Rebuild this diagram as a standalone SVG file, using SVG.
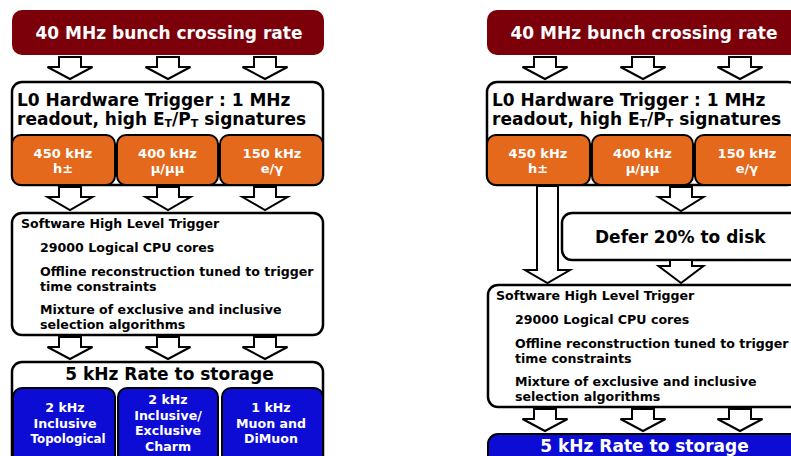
<svg xmlns="http://www.w3.org/2000/svg" width="791" height="456" viewBox="0 0 791 456">
  <defs>
    <style>
      text { font-family: "DejaVu Sans", Verdana, sans-serif; font-weight: bold; }
      .box { fill: #ffffff; stroke: #000000; stroke-width: 2.5; }
      .red { fill: #7b0009; }
      .orange { fill: #e5691c; stroke: #000000; stroke-width: 2; }
      .blue { fill: #0c0cd4; stroke: #000000; stroke-width: 2; }
      .arrow { fill: #ffffff; stroke: #000000; stroke-width: 2; stroke-linejoin: miter; }
      .wt { fill: #ffffff; }
      .bk { fill: #000000; }
      .big { font-size: 17px; }
      .mid { font-size: 12.6px; }
      .sub { font-size: 13px; }
      .sm { font-size: 12.6px; }
      .c { text-anchor: middle; }
      .idx { font-size: 11px; }
    </style>
  </defs>
  <rect width="791" height="456" fill="#ffffff"/>

  <!-- ===== Left chain ===== -->
  <g id="left-rate">
    <rect class="red" x="12" y="10" width="312" height="45" rx="10"/>
    <text class="wt big c" x="169" y="39">40 MHz bunch crossing rate</text>
  </g>

  <g id="left-l0">
    <rect class="box" x="12" y="82" width="311" height="103" rx="10"/>
    <text class="bk big" x="17" y="106">L0 Hardware Trigger : 1 MHz</text>
    <text class="bk big" x="17" y="125">readout, high E<tspan class="idx" dy="2">T</tspan><tspan dy="-2">/P</tspan><tspan class="idx" dy="2">T</tspan><tspan dy="-2"> signatures</tspan></text>
  </g>
  <g id="left-l0-hadron">
    <rect class="orange" x="12" y="135" width="103" height="50" rx="9"/>
    <text class="wt sub c" x="63" y="158">450 kHz</text>
    <text class="wt sub c" x="63" y="173">h±</text>
  </g>
  <g id="left-l0-muon">
    <rect class="orange" x="117" y="135" width="101" height="50" rx="9"/>
    <text class="wt sub c" x="167.5" y="158">400 kHz</text>
    <text class="wt sub c" x="167.5" y="173">μ/μμ</text>
  </g>
  <g id="left-l0-egamma">
    <rect class="orange" x="220" y="135" width="103" height="50" rx="9"/>
    <text class="wt sub c" x="272" y="158">150 kHz</text>
    <text class="wt sub c" x="272" y="173">e/γ</text>
  </g>

  <g id="left-hlt">
    <rect class="box" x="12" y="213" width="311" height="122" rx="10"/>
    <text class="bk mid" x="21" y="228">Software High Level Trigger</text>
    <text class="bk mid" x="40" y="252">29000 Logical CPU cores</text>
    <text class="bk mid" x="40" y="276">Offline reconstruction tuned to trigger</text>
    <text class="bk mid" x="40" y="291">time constraints</text>
    <text class="bk mid" x="40" y="314">Mixture of exclusive and inclusive</text>
    <text class="bk mid" x="40" y="329">selection algorithms</text>
  </g>

  <g id="left-storage">
    <rect class="box" x="12" y="362" width="311" height="120" rx="10"/>
    <text class="bk big c" x="169.5" y="380">5 kHz Rate to storage</text>
  </g>
  <g id="left-storage-topo">
    <rect class="blue" x="13" y="388" width="102" height="90" rx="9"/>
    <text class="wt sm c" x="65" y="412">2 kHz</text>
    <text class="wt sm c" x="65" y="428">Inclusive</text>
    <text class="wt sm c" x="68" y="443" textLength="75" lengthAdjust="spacingAndGlyphs">Topological</text>
  </g>
  <g id="left-storage-charm">
    <rect class="blue" x="118" y="388" width="100" height="90" rx="9"/>
    <text class="wt sm c" x="168" y="404">2 kHz</text>
    <text class="wt sm c" x="168" y="420">Inclusive/</text>
    <text class="wt sm c" x="168" y="435">Exclusive</text>
    <text class="wt sm c" x="168" y="451">Charm</text>
  </g>
  <g id="left-storage-muon">
    <rect class="blue" x="222" y="388" width="101" height="90" rx="9"/>
    <text class="wt sm c" x="271" y="412">1 kHz</text>
    <text class="wt sm c" x="271" y="428">Muon and</text>
    <text class="wt sm c" x="271" y="443">DiMuon</text>
  </g>

  <!-- ===== Right chain ===== -->
  <g id="right-rate">
    <rect class="red" x="487" y="10" width="330" height="45" rx="10"/>
    <text class="wt big c" x="644" y="39">40 MHz bunch crossing rate</text>
  </g>

  <g id="right-l0">
    <rect class="box" x="487" y="82" width="311" height="103" rx="10"/>
    <text class="bk big" x="492" y="106">L0 Hardware Trigger : 1 MHz</text>
    <text class="bk big" x="492" y="125">readout, high E<tspan class="idx" dy="2">T</tspan><tspan dy="-2">/P</tspan><tspan class="idx" dy="2">T</tspan><tspan dy="-2"> signatures</tspan></text>
  </g>
  <g id="right-l0-hadron">
    <rect class="orange" x="487" y="135" width="103" height="50" rx="9"/>
    <text class="wt sub c" x="538" y="158">450 kHz</text>
    <text class="wt sub c" x="538" y="173">h±</text>
  </g>
  <g id="right-l0-muon">
    <rect class="orange" x="592" y="135" width="101" height="50" rx="9"/>
    <text class="wt sub c" x="642.5" y="158">400 kHz</text>
    <text class="wt sub c" x="642.5" y="173">μ/μμ</text>
  </g>
  <g id="right-l0-egamma">
    <rect class="orange" x="695" y="135" width="103" height="50" rx="9"/>
    <text class="wt sub c" x="747" y="158">150 kHz</text>
    <text class="wt sub c" x="747" y="173">e/γ</text>
  </g>

  <g id="right-defer">
    <rect class="box" x="562" y="213" width="260" height="47" rx="10"/>
    <text class="bk big" x="595" y="243">Defer 20% to disk</text>
  </g>

  <g id="right-hlt">
    <rect class="box" x="488" y="285" width="320" height="122" rx="10"/>
    <text class="bk mid" x="496" y="300">Software High Level Trigger</text>
    <text class="bk mid" x="515" y="324">29000 Logical CPU cores</text>
    <text class="bk mid" x="515" y="348">Offline reconstruction tuned to trigger</text>
    <text class="bk mid" x="515" y="363">time constraints</text>
    <text class="bk mid" x="515" y="386">Mixture of exclusive and inclusive</text>
    <text class="bk mid" x="515" y="401">selection algorithms</text>
  </g>

  <g id="right-storage">
    <rect class="blue" x="488" y="434" width="320" height="40" rx="10" stroke-width="2.5"/>
    <text class="wt big c" x="644.5" y="452">5 kHz Rate to storage</text>
  </g>

  <!-- ===== Block arrows ===== -->
  <g id="connectors">
    <!-- left: rate -> L0 -->
    <polygon class="arrow" points="59,57 81,57 81,67 92.5,67 70,79 47.5,67 59,67"/>
    <polygon class="arrow" points="157,57 179,57 179,67 190.5,67 168,79 145.5,67 157,67"/>
    <polygon class="arrow" points="254,57 276,57 276,67 287.5,67 265,79 242.5,67 254,67"/>
    <!-- left: L0 -> HLT -->
    <polygon class="arrow" points="59,187 81,187 81,197 92.5,197 70,210 47.5,197 59,197"/>
    <polygon class="arrow" points="157,187 179,187 179,197 190.5,197 168,210 145.5,197 157,197"/>
    <polygon class="arrow" points="254,187 276,187 276,197 287.5,197 265,210 242.5,197 254,197"/>
    <!-- left: HLT -> storage -->
    <polygon class="arrow" points="59,337 81,337 81,347 92.5,347 70,359 47.5,347 59,347"/>
    <polygon class="arrow" points="157,337 179,337 179,347 190.5,347 168,359 145.5,347 157,347"/>
    <polygon class="arrow" points="254,337 276,337 276,347 287.5,347 265,359 242.5,347 254,347"/>

    <!-- right: rate -> L0 -->
    <polygon class="arrow" points="534,57 556,57 556,67 567.5,67 545,79 522.5,67 534,67"/>
    <polygon class="arrow" points="632,57 654,57 654,67 665.5,67 643,79 620.5,67 632,67"/>
    <polygon class="arrow" points="729,57 751,57 751,67 762.5,67 740,79 717.5,67 729,67"/>
    <!-- right: hadron rate bypasses the deferral -->
    <polygon class="arrow" points="537,186 558,186 558,270 570,270 547.5,283 525,270 537,270"/>
    <!-- right: L0 -> defer -> HLT -->
    <polygon class="arrow" points="670,187 692,187 692,197 703.5,197 681,211 658.5,197 670,197"/>
    <polygon class="arrow" points="670,260 692,260 692,266 703.5,266 681,283 658.5,266 670,266"/>
    <!-- right: HLT -> storage -->
    <polygon class="arrow" points="534,409 556,409 556,419 567.5,419 545,431 522.5,419 534,419"/>
    <polygon class="arrow" points="632,409 654,409 654,419 665.5,419 643,431 620.5,419 632,419"/>
    <polygon class="arrow" points="729,409 751,409 751,419 762.5,419 740,431 717.5,419 729,419"/>
  </g>
</svg>
